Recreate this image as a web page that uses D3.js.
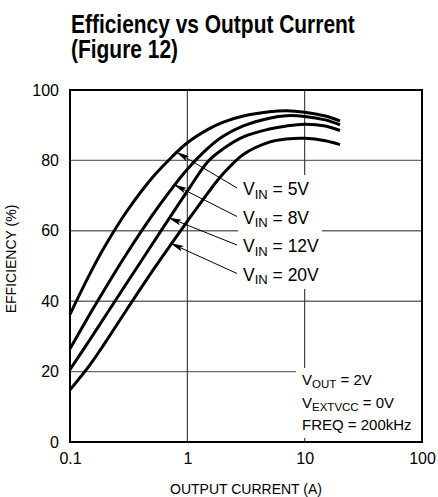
<!DOCTYPE html>
<html><head><meta charset="utf-8">
<script src="https://cdn.jsdelivr.net/npm/d3@7"></script>
<style>
html,body{margin:0;padding:0;background:#fff;}
svg{display:block;}
text{font-family:"Liberation Sans",Arial,sans-serif;fill:#000;}
</style></head>
<body>
<svg id="chart" width="438" height="497"></svg>
<script>
// ---- data ----
const currentA = [0.1,0.15,0.2,0.3,0.5,0.7,1,1.5,2,3,5,7,10,15,20];
const eff5V  = [36.3,48.2,55.8,65.2,75,80.2,85,88.8,90.8,92.6,93.8,94.1,93.7,92.6,91.2];
const eff8V  = [26.5,36.7,43.7,53.2,64.3,71.0,77.5,83.5,86.8,89.8,92.0,92.7,92.5,91.5,90.1];
const eff12V = [20.6,29.4,35.8,44.8,56.1,63.5,71.25,79.7,83.2,86.7,88.9,89.8,90.3,89.8,88.5];
const eff20V = [14.8,22.2,28.3,37.3,48.4,55.4,62.7,70.8,76.05,81.7,85.2,86.1,86.3,85.6,84.5];
const seriesNames = ["5V","8V","12V","20V"];
const seriesValues = [eff5V, eff8V, eff12V, eff20V];
const arrowTipCurrent = [0.83, 0.79, 0.71, 0.74];
const xTicks = [0.1, 1, 10, 100];
const xTickLabels = ["0.1","1","10","100"];
const yTicks = [0,20,40,60,80,100];
const titleLines = ["Efficiency vs Output Current","(Figure 12)"];
const xTitle = "OUTPUT CURRENT (A)";
const yTitle = "EFFICIENCY (%)";
const noteLines = [["V","OUT"," = 2V"],["V","EXTVCC"," = 0V"],["FREQ = 200kHz","",""]];

// ---- layout ----
const svg = d3.select("#chart");
const L = 70, R = 422, T = 90, B = 442;
const x = d3.scaleLog().domain([0.1,100]).range([L,R]);
const y = d3.scaleLinear().domain([0,100]).range([B,T]);

// title (one text element, two lines, horizontally condensed)
const title = svg.append("text").attr("font-weight","bold").attr("font-size",25);
const tsp = titleLines.map((t,i)=> title.append("tspan").attr("x",0).attr("y",i*25.5).text(t));
const w1 = tsp[0].node().getComputedTextLength();
const sx = 284 / w1;
title.attr("transform",`translate(71,33) scale(${sx},1)`);

// grid
const g = svg.append("g");
g.selectAll("line.hg").data(yTicks.filter(v=>v>0&&v<100)).join("line")
  .attr("x1",L).attr("x2",R).attr("y1",d=>y(d)).attr("y2",d=>y(d))
  .attr("stroke","#6a6a6a").attr("stroke-width",1.4);
g.selectAll("line.vg").data(xTicks.filter(v=>v>0.1&&v<100)).join("line")
  .attr("y1",T).attr("y2",B).attr("x1",d=>x(d)).attr("x2",d=>x(d))
  .attr("stroke","#333").attr("stroke-width",1.1);

// curves
const line = d3.line().x(d=>x(d[0])).y(d=>y(d[1])).curve(d3.curveCatmullRom.alpha(0.5));
seriesValues.forEach(vals=>{
  g.append("path").datum(currentA.map((c,i)=>[c,vals[i]]))
   .attr("d",line).attr("fill","none").attr("stroke","#000").attr("stroke-width",3)
   .attr("stroke-linecap","butt");
});

// interpolation helper (log-x)
function effAt(vals, c){
  for(let i=0;i<currentA.length-1;i++){
    if(c>=currentA[i] && c<=currentA[i+1]){
      const t = Math.log(c/currentA[i])/Math.log(currentA[i+1]/currentA[i]);
      return vals[i]+t*(vals[i+1]-vals[i]);
    }
  }
  return vals[vals.length-1];
}

// arrow marker
const defs = svg.append("defs");
defs.append("marker").attr("id","ah").attr("viewBox","0 0 14 6")
  .attr("refX",14).attr("refY",3).attr("markerWidth",14).attr("markerHeight",6)
  .attr("markerUnits","userSpaceOnUse").attr("orient","auto")
  .append("path").attr("d","M0,0 L14,3 L0,6 L3,3 Z").attr("fill","#000");

// series labels with white background
const labBg = svg.append("rect").attr("fill","#fff");
const labG = svg.append("g");
const labX = 243, labY0 = 195, labDY = 28.5;
seriesNames.forEach((n,i)=>{
  const t = labG.append("text").attr("x",labX).attr("y",labY0+i*labDY).attr("font-size",17.5);
  t.append("tspan").text("V");
  t.append("tspan").attr("font-size",13).attr("dy",3.5).text("IN");
  t.append("tspan").attr("dy",-3.5).text(" = "+n);
});
const lb = labG.node().getBBox();
labBg.attr("x",lb.x-5).attr("y",lb.y-4).attr("width",lb.width+8).attr("height",lb.height+6);
seriesNames.forEach((n,i)=>{
  const c = arrowTipCurrent[i];
  const e = effAt(seriesValues[i], c);
  svg.append("line").attr("x1",labX-6).attr("y1",labY0+i*labDY-7)
    .attr("x2",x(c)-2).attr("y2",y(e)).attr("stroke","#000").attr("stroke-width",1)
    .attr("marker-end","url(#ah)");
});

// note box
const noteBg = svg.append("rect").attr("fill","#fff");
const noteG = svg.append("g");
noteLines.forEach((ln,i)=>{
  const t = noteG.append("text").attr("x",302).attr("y",385+i*22.5).attr("font-size",15);
  t.append("tspan").text(ln[0]);
  if(ln[1]){
    t.append("tspan").attr("font-size",11.5).attr("dy",3).text(ln[1]);
    t.append("tspan").attr("dy",-3).text(ln[2]);
  }
});
const nb = noteG.node().getBBox();
noteBg.attr("x",nb.x-6).attr("y",nb.y-3).attr("width",R-(nb.x-6)).attr("height",B-4-(nb.y-3));

// frame
svg.append("rect").attr("x",L).attr("y",T).attr("width",R-L).attr("height",B-T)
  .attr("fill","none").attr("stroke","#000").attr("stroke-width",2);

// axes
const xa = svg.append("g").attr("transform",`translate(0,${B})`)
  .call(d3.axisBottom(x).tickValues(xTicks).tickFormat((d,i)=>xTickLabels[i]).tickSize(0).tickPadding(11));
const ya = svg.append("g").attr("transform",`translate(${L},0)`)
  .call(d3.axisLeft(y).tickValues(yTicks).tickSize(0).tickPadding(11));
[xa,ya].forEach(a=>{
  a.select(".domain").remove();
  a.selectAll("text").attr("font-size",16).attr("font-family","Liberation Sans, Arial, sans-serif").attr("fill","#000");
});

// axis titles
svg.append("text").attr("x",(L+R)/2).attr("y",494).attr("text-anchor","middle")
  .attr("font-size",14).text(xTitle);
svg.append("text").attr("transform",`translate(16,${(T+B)/2-7}) rotate(-90)`)
  .attr("text-anchor","middle").attr("font-size",14).text(yTitle);
</script>
</body></html>
